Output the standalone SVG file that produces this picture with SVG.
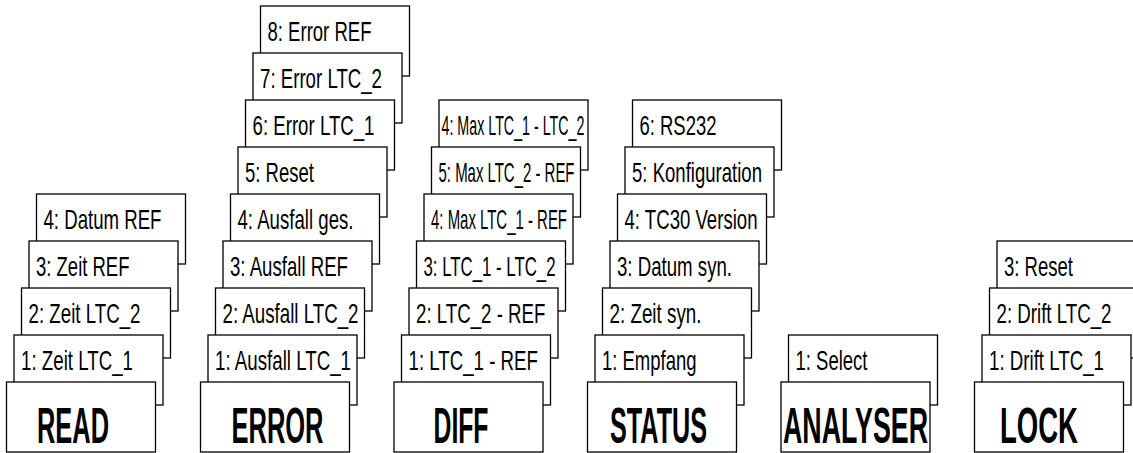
<svg xmlns="http://www.w3.org/2000/svg" width="1133" height="453" viewBox="0 0 1133 453">
<style>
rect.c{fill:#fff;stroke:#000;stroke-width:1.3}
text{font-family:"Liberation Sans",Arial,sans-serif;fill:#000}
.t{font-size:28px}
.m{font-size:50px;font-weight:bold}
</style>
<rect width="1133" height="453" fill="#fff"/>
<g id="connectors"/>
<!-- READ stack -->
<g id="read-4"><rect class="c" x="36.5" y="194" width="149" height="70"/><text class="t" x="43.5" y="229" textLength="118" lengthAdjust="spacingAndGlyphs">4: Datum REF</text></g>
<g id="read-3"><rect class="c" x="29" y="241" width="149" height="70"/><text class="t" x="36" y="276" textLength="93.5" lengthAdjust="spacingAndGlyphs">3: Zeit REF</text></g>
<g id="read-2"><rect class="c" x="21.5" y="288" width="149" height="70"/><text class="t" x="28.5" y="323" textLength="112" lengthAdjust="spacingAndGlyphs">2: Zeit LTC_2</text></g>
<g id="read-1"><rect class="c" x="14" y="335" width="149" height="70"/><text class="t" x="21" y="370" textLength="112" lengthAdjust="spacingAndGlyphs">1: Zeit LTC_1</text></g>
<g id="read"><rect class="c" x="6.5" y="382" width="149" height="70"/><text class="m" x="37" y="443" textLength="72" lengthAdjust="spacingAndGlyphs">READ</text></g>
<!-- ERROR stack -->
<g id="error-8"><rect class="c" x="260.5" y="6" width="149" height="70"/><text class="t" x="267.5" y="41" textLength="104" lengthAdjust="spacingAndGlyphs">8: Error REF</text></g>
<g id="error-7"><rect class="c" x="253" y="53" width="149" height="70"/><text class="t" x="260" y="88" textLength="122" lengthAdjust="spacingAndGlyphs">7: Error LTC_2</text></g>
<g id="error-6"><rect class="c" x="245.5" y="100" width="149" height="70"/><text class="t" x="252.5" y="135" textLength="122" lengthAdjust="spacingAndGlyphs">6: Error LTC_1</text></g>
<g id="error-5"><rect class="c" x="238" y="147" width="149" height="70"/><text class="t" x="245" y="182" textLength="69" lengthAdjust="spacingAndGlyphs">5: Reset</text></g>
<g id="error-4"><rect class="c" x="230.5" y="194" width="149" height="70"/><text class="t" x="237.5" y="229" textLength="116" lengthAdjust="spacingAndGlyphs">4: Ausfall ges.</text></g>
<g id="error-3"><rect class="c" x="223" y="241" width="149" height="70"/><text class="t" x="230" y="276" textLength="118" lengthAdjust="spacingAndGlyphs">3: Ausfall REF</text></g>
<g id="error-2"><rect class="c" x="215.5" y="288" width="149" height="70"/><text class="t" x="222.5" y="323" textLength="136" lengthAdjust="spacingAndGlyphs">2: Ausfall LTC_2</text></g>
<g id="error-1"><rect class="c" x="208" y="335" width="149" height="70"/><text class="t" x="215" y="370" textLength="136" lengthAdjust="spacingAndGlyphs">1: Ausfall LTC_1</text></g>
<g id="error"><rect class="c" x="200.5" y="382" width="149" height="70"/><text class="m" x="231.5" y="443" textLength="92" lengthAdjust="spacingAndGlyphs">ERROR</text></g>
<!-- DIFF stack -->
<g id="diff-6"><rect class="c" x="439" y="100" width="149" height="70"/><text class="t" x="441.5" y="135" textLength="143" lengthAdjust="spacingAndGlyphs">4: Max LTC_1 - LTC_2</text></g>
<g id="diff-5"><rect class="c" x="431.5" y="147" width="149" height="70"/><text class="t" x="438.5" y="182" textLength="136" lengthAdjust="spacingAndGlyphs">5: Max LTC_2 - REF</text></g>
<g id="diff-4"><rect class="c" x="424" y="194" width="149" height="70"/><text class="t" x="431" y="229" textLength="136" lengthAdjust="spacingAndGlyphs">4: Max LTC_1 - REF</text></g>
<g id="diff-3"><rect class="c" x="416.5" y="241" width="149" height="70"/><text class="t" x="423.5" y="276" textLength="132" lengthAdjust="spacingAndGlyphs">3: LTC_1 - LTC_2</text></g>
<g id="diff-2"><rect class="c" x="409" y="288" width="149" height="70"/><text class="t" x="416" y="323" textLength="129.4" lengthAdjust="spacingAndGlyphs">2: LTC_2 - REF</text></g>
<g id="diff-1"><rect class="c" x="401.5" y="335" width="149" height="70"/><text class="t" x="408.5" y="370" textLength="129.4" lengthAdjust="spacingAndGlyphs">1: LTC_1 - REF</text></g>
<g id="diff"><rect class="c" x="394" y="382" width="149" height="70"/><text class="m" x="433.5" y="443" textLength="55" lengthAdjust="spacingAndGlyphs">DIFF</text></g>
<!-- STATUS stack -->
<g id="status-6"><rect class="c" x="632.5" y="100" width="149" height="70"/><text class="t" x="639.5" y="135" textLength="77" lengthAdjust="spacingAndGlyphs">6: RS232</text></g>
<g id="status-5"><rect class="c" x="625" y="147" width="149" height="70"/><text class="t" x="632" y="182" textLength="130" lengthAdjust="spacingAndGlyphs">5: Konfiguration</text></g>
<g id="status-4"><rect class="c" x="617.5" y="194" width="149" height="70"/><text class="t" x="624.5" y="229" textLength="133" lengthAdjust="spacingAndGlyphs">4: TC30 Version</text></g>
<g id="status-3"><rect class="c" x="610" y="241" width="149" height="70"/><text class="t" x="617" y="276" textLength="115" lengthAdjust="spacingAndGlyphs">3: Datum syn.</text></g>
<g id="status-2"><rect class="c" x="602.5" y="288" width="149" height="70"/><text class="t" x="609.5" y="323" textLength="92" lengthAdjust="spacingAndGlyphs">2: Zeit syn.</text></g>
<g id="status-1"><rect class="c" x="595" y="335" width="149" height="70"/><text class="t" x="602" y="370" textLength="94.5" lengthAdjust="spacingAndGlyphs">1: Empfang</text></g>
<g id="status"><rect class="c" x="587.5" y="382" width="149" height="70"/><text class="m" x="610" y="443" textLength="97" lengthAdjust="spacingAndGlyphs">STATUS</text></g>
<!-- ANALYSER stack -->
<g id="analyser-1"><rect class="c" x="788.5" y="335" width="149" height="70"/><text class="t" x="795.5" y="370" textLength="72" lengthAdjust="spacingAndGlyphs">1: Select</text></g>
<g id="analyser"><rect class="c" x="781" y="382" width="149" height="70"/><text class="m" x="783" y="443" textLength="145" lengthAdjust="spacingAndGlyphs">ANALYSER</text></g>
<!-- LOCK stack -->
<g id="lock-3"><rect class="c" x="997" y="241" width="149" height="70"/><text class="t" x="1004" y="276" textLength="69" lengthAdjust="spacingAndGlyphs">3: Reset</text></g>
<g id="lock-2"><rect class="c" x="989.5" y="288" width="149" height="70"/><text class="t" x="996.5" y="323" textLength="115" lengthAdjust="spacingAndGlyphs">2: Drift LTC_2</text></g>
<g id="lock-1"><rect class="c" x="982" y="335" width="149" height="70"/><text class="t" x="989" y="370" textLength="115" lengthAdjust="spacingAndGlyphs">1: Drift LTC_1</text></g>
<g id="lock"><rect class="c" x="974.5" y="382" width="149" height="70"/><text class="m" x="1000" y="443" textLength="78" lengthAdjust="spacingAndGlyphs">LOCK</text></g>
</svg>
